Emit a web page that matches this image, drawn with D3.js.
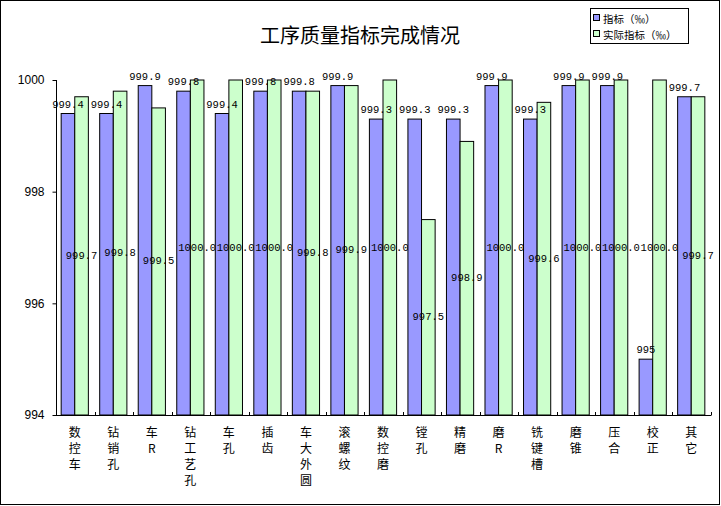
<!DOCTYPE html>
<html>
<head>
<meta charset="utf-8">
<title>工序质量指标完成情况</title>
<style>
  html, body { margin: 0; background: #fff; }
  svg { display: block; }
  text { font-family: "Noto Sans CJK SC", sans-serif; fill: #000; }
  .val { font-family: "Liberation Mono", "DejaVu Sans Mono", monospace; font-size: 10.5px; }
</style>
</head>
<body>
<svg id="chart" width="721" height="506"></svg>
<script src="https://d3js.org/d3.v7.min.js"></script>
<script>
// categories, one character per line
const categories = ['数控车', '钻销孔', '车R', '钻工艺孔', '车孔', '插齿', '车大外圆', '滚螺纹',
  '数控磨', '镗孔', '精磨', '磨R', '铣键槽', '磨锥', '压合', '校正', '其它'];
// 指标 (‰)
const target = [999.4, 999.4, 999.9, 999.8, 999.4, 999.8, 999.8, 999.9,
  999.3, 999.3, 999.3, 999.9, 999.3, 999.9, 999.9, 995, 999.7];
// 实际指标 (‰)
const actual = [999.7, 999.8, 999.5, 1000.0, 1000.0, 1000.0, 999.8, 999.9,
  1000.0, 997.5, 998.9, 1000.0, 999.6, 1000.0, 1000.0, 1000.0, 999.7];
const yTicks = [994, 996, 998, 1000];
const seriesNames = ['指标（‰）', '实际指标（‰）'];
const colors = ['#9999ff', '#ccffcc'];

const svg = d3.select('#chart');
const W = 721, H = 506;

// outer frame
svg.append('rect')
  .attr('x', 0.5).attr('y', 0.5)
  .attr('width', W - 2).attr('height', H - 2)
  .attr('fill', '#fff').attr('stroke', '#000');

// title
svg.append('text')
  .attr('x', 360).attr('y', 34)
  .attr('text-anchor', 'middle')
  .attr('dominant-baseline', 'central')
  .style('font-size', '20px')
  .text('工序质量指标完成情况');

const x = d3.scaleBand().domain(categories).range([56, 711]);
const y = d3.scaleLinear().domain([994, 1000]).range([415, 80]);
const barW = 13.6;

// bars
const g = svg.append('g');
const groups = g.selectAll('g.cat')
  .data(categories)
  .join('g')
  .attr('class', 'cat');

groups.append('rect')
  .attr('x', (d, i) => x(d) + x.bandwidth() / 2 - barW - 0.5)
  .attr('y', (d, i) => y(target[i]))
  .attr('width', barW)
  .attr('height', (d, i) => y(994) - y(target[i]))
  .attr('fill', colors[0]).attr('stroke', '#000');

groups.append('rect')
  .attr('x', (d, i) => x(d) + x.bandwidth() / 2 - 0.5)
  .attr('y', (d, i) => y(actual[i]))
  .attr('width', barW)
  .attr('height', (d, i) => y(994) - y(actual[i]))
  .attr('fill', colors[1]).attr('stroke', '#000');

// axes
const yAxis = d3.axisLeft(y).tickValues(yTicks).tickSize(4).tickFormat(d3.format('d'));
svg.append('g')
  .attr('transform', 'translate(56.5,0)')
  .call(yAxis)
  .call(a => a.select('.domain').attr('stroke', '#000').attr('d', 'M0,80V415'))
  .call(a => a.selectAll('.tick line').attr('stroke', '#000'))
  .call(a => a.selectAll('.tick text')
    .attr('x', -12)
    .style('font-family', '"Liberation Sans", Arial, sans-serif')
    .style('font-size', '12px'));

// x axis line with ticks between categories (pointing up)
const xBound = categories.map(c => x(c)).concat([x.range()[1]]);
svg.append('line')
  .attr('x1', 56).attr('x2', 711)
  .attr('y1', 415.5).attr('y2', 415.5)
  .attr('stroke', '#000');
svg.append('g').selectAll('line')
  .data(xBound)
  .join('line')
  .attr('x1', d => Math.round(d) + 0.5).attr('x2', d => Math.round(d) + 0.5)
  .attr('y1', 412).attr('y2', 415.5)
  .attr('stroke', '#000');

// category labels, stacked vertically
groups.append('text')
  .attr('text-anchor', 'middle')
  .style('font-size', '12px')
  .selectAll('tspan')
  .data(d => Array.from(d).map(ch => ({ ch, cat: d })))
  .join('tspan')
  .attr('x', d => x(d.cat) + x.bandwidth() / 2 - 0.5)
  .attr('y', (d, j) => 437 + j * 16)
  .text(d => d.ch);

// value labels
const fmtT = d => (Number.isInteger(d) ? String(d) : d.toFixed(1));
groups.append('text')
  .attr('class', 'val')
  .attr('x', (d, i) => x(d) + x.bandwidth() / 2 - barW / 2 - 0.5)
  .attr('y', (d, i) => y(target[i]) - 6)
  .attr('text-anchor', 'middle')
  .text((d, i) => fmtT(target[i]));

groups.append('text')
  .attr('class', 'val')
  .attr('x', (d, i) => x(d) + x.bandwidth() / 2 + barW / 2 - 0.5)
  .attr('y', (d, i) => (y(actual[i]) + y(994)) / 2)
  .attr('dominant-baseline', 'central')
  .attr('text-anchor', 'middle')
  .text((d, i) => actual[i].toFixed(1));

// legend
const leg = svg.append('g').attr('transform', 'translate(590,8)');
leg.append('rect')
  .attr('x', 0.5).attr('y', 0.5)
  .attr('width', 98).attr('height', 35)
  .attr('fill', '#fff').attr('stroke', '#000');
seriesNames.forEach((name, i) => {
  const ly = 10 + i * 16;
  leg.append('rect')
    .attr('x', 3.5).attr('y', ly - 3.5)
    .attr('width', 6).attr('height', 6)
    .attr('fill', colors[i]).attr('stroke', '#000');
  leg.append('text')
    .attr('x', 13).attr('y', ly)
    .attr('dominant-baseline', 'central')
    .style('font-size', '10.5px')
    .text(name);
});
</script>
</body>
</html>
